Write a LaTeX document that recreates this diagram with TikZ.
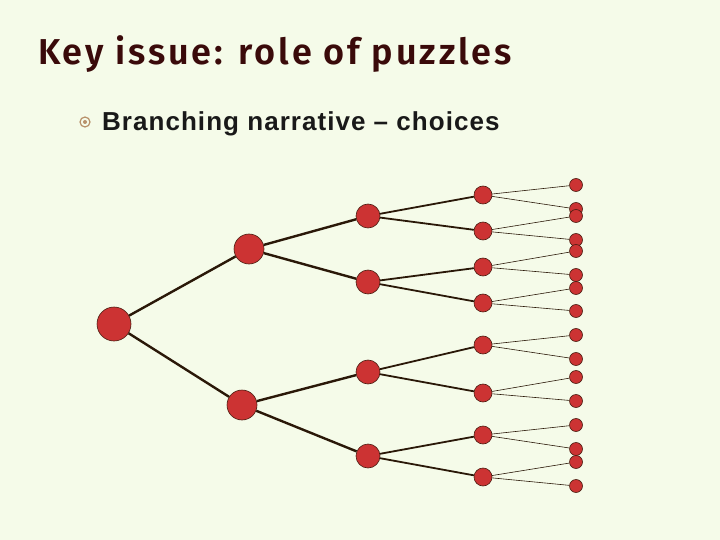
\documentclass[tikz,border=0pt]{standalone}
\usepackage{fontspec}
\setmainfont{Liberation Sans}
\newfontfamily\titlefont[LetterSpace=8]{Fira Sans SemiBold}
\newfontfamily\bulfont[LetterSpace=4]{Liberation Sans Bold}
\definecolor{bg}{HTML}{F5FBE9}
\definecolor{ttl}{HTML}{3A0A0A}
\definecolor{nd}{HTML}{CC3333}
\definecolor{ln}{HTML}{2A1808}
\definecolor{bul}{HTML}{B8916A}
\begin{document}
\begin{tikzpicture}[x=1pt,y=-1pt,
  nd/.style={circle,fill=nd,draw=ln!80!nd,line width=0.6pt,inner sep=0pt,minimum size=#1},
  thick line/.style={draw=ln,line width=2.4pt},
  thin line/.style={draw=ln,line width=0.6pt}]
\fill[bg] (0,0) rectangle (720,540);
\useasboundingbox (0,0) rectangle (720,540);
\node[anchor=base west,text=ttl,font=\titlefont\fontsize{36}{40}\selectfont,inner sep=0pt] (title) at (38,65) {Key issue: role of puzzles};
\node[circle,draw=bul,line width=1.2pt,fill=bg,minimum size=10pt,inner sep=0pt] (b) at (85,122) {};
\node[circle,fill=bul,minimum size=4pt,inner sep=0pt] (bc) at (85,122) {};
\node[anchor=base west,font=\bulfont\fontsize{26}{30}\selectfont,text=black!90,inner sep=0pt] (t1) at (102,131) {Branching narrative – choices};
\node[nd=34pt] (r) at (114,324) {};
\node[nd=30pt] (a1) at (249,249) {};
\node[nd=30pt] (a2) at (242,405) {};
\foreach \i/\y in {1/216,2/282,3/372,4/456} \node[nd=24pt] (b\i) at (368,\y) {};
\foreach \i/\y in {1/195,2/231,3/267,4/303,5/345,6/393,7/435,8/477} \node[nd=18pt] (c\i) at (483,\y) {};
\foreach \i/\y in {1/185,2/209,3/216,4/240,5/251,6/275,7/288,8/311,9/335,10/359,11/377,12/401,13/425,14/449,15/462,16/486} \node[nd=13pt] (d\i) at (576,\y) {};
\path[thick line] (r) -- (a1) (r) -- (a2) (a1) -- (b1) (a1) -- (b2) (a2) -- (b3) (a2) -- (b4);
\path[thick line,line width=1.8pt] (b1) -- (c1) (b1) -- (c2) (b2) -- (c3) (b2) -- (c4) (b3) -- (c5) (b3) -- (c6) (b4) -- (c7) (b4) -- (c8);
\foreach \c [evaluate=\c as \da using int(2*\c-1), evaluate=\c as \db using int(2*\c)] in {1,...,8}
  \path[thin line] (c\c) -- (d\da) (c\c) -- (d\db);
\end{tikzpicture}
\end{document}
